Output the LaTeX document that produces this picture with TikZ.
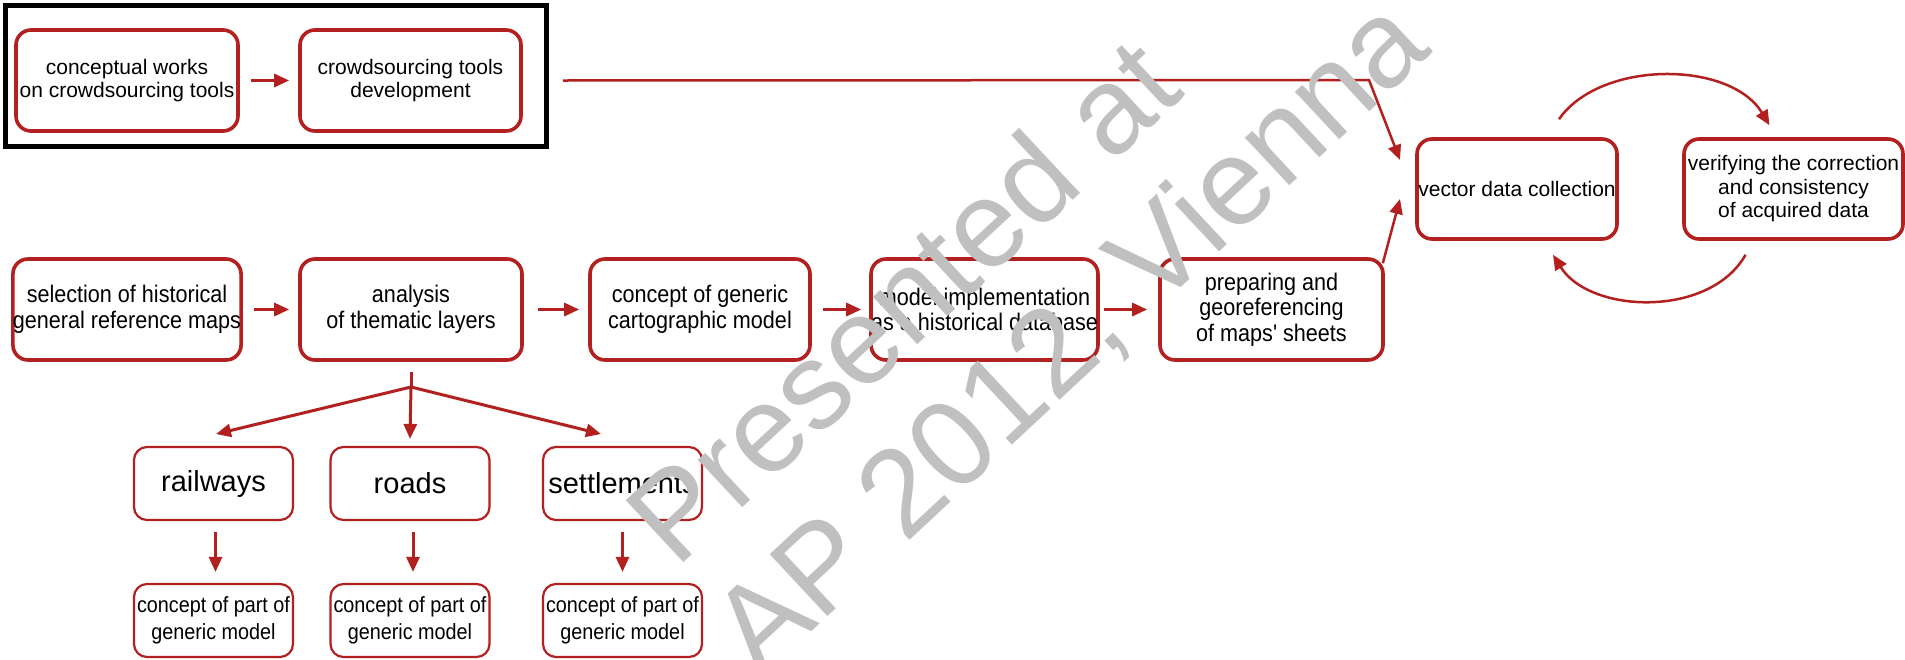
\documentclass[tikz,border=0pt]{standalone}
\usepackage{fontspec}
\setmainfont{Liberation Sans}
\newfontfamily\narrowfont{Liberation Sans}[FakeStretch=0.9]
\usetikzlibrary{arrows.meta,calc}
\definecolor{dred}{RGB}{178,32,32}
\definecolor{wmgray}{RGB}{192,192,192}
\begin{document}
\begin{tikzpicture}[x=1pt,y=-1pt,
  box/.style={draw=dred, line width=3.6pt, rounded corners=15pt, minimum height=101pt,
    align=center, inner sep=0pt, font=\fontsize{21}{23.5}\selectfont},
  boxn/.style={box, font=\narrowfont\fontsize{24}{25.5}\selectfont},
  sbox/.style={draw=dred, line width=2.2pt, rounded corners=13pt, minimum width=159pt,
    minimum height=73pt, align=center, inner sep=0pt},
  arr/.style={draw=dred, line width=3pt, -{Triangle[length=15pt,width=13pt]}},
  thin/.style={draw=dred, line width=2.5pt, -{Triangle[length=15pt,width=13pt]}},
  wm/.style={text=wmgray, anchor=base west, inner sep=0pt, rotate=43, font=\fontsize{123}{123}\selectfont}
]
\useasboundingbox (0,0) rectangle (1905,659);
\fill[white] (0,0) rectangle (1905,659);

% group frame
\node[draw=black, line width=5pt, minimum width=541pt, minimum height=141pt, inner sep=0pt] (grp) at (275.5,75.5) {};

% row 1
\node[box, minimum width=222pt] (cw) at (127,80.5) {conceptual works\\on crowdsourcing tools};
\node[box, minimum width=221pt] (ctd) at (410.5,80.5) {crowdsourcing tools\\development};

% right side
\node[box, minimum width=200pt, minimum height=100pt] (vdc) at (1517,189) {vector data collection};
\node[box, minimum width=219pt, minimum height=100pt] (ver) at (1793.5,189) {verifying the correction\\and consistency\\of acquired data};

% row 2
\node[boxn, minimum width=222pt] (sel) at (127,309.5) {selection of historical\\general reference maps};
\node[boxn, minimum width=222pt] (ana) at (411,309.5) {analysis\\of thematic layers};
\node[boxn, minimum width=220pt] (cgc) at (700,309.5) {concept of generic\\cartographic model};
\node[boxn, minimum width=225pt] (mi) at (984.5,309.5) {model implementation\\as a historical database};
\node[boxn, minimum width=223pt] (prep) at (1271.5,309.5) {preparing and\\georeferencing\\of maps' sheets};

% row 3
\node[sbox, font=\fontsize{29}{31}\selectfont] (rail) at (213.5,483.5) {railways};
\node[sbox, font=\fontsize{29}{31}\selectfont] (road) at (410,483.5) {roads};
\node[sbox, font=\fontsize{29}{31}\selectfont] (sett) at (622.5,483.5) {settlements};

% row 4
\node[sbox, font=\narrowfont\fontsize{22}{27}\selectfont] (crail) at (213.5,620.5) {concept of part of\\generic model};
\node[sbox, font=\narrowfont\fontsize{22}{27}\selectfont] (croad) at (410,620.5) {concept of part of\\generic model};
\node[sbox, font=\narrowfont\fontsize{22}{27}\selectfont] (csett) at (622.5,620.5) {concept of part of\\generic model};

% coordinates
\coordinate (lineend) at (1369,80);
\coordinate (tipA) at (1400,160);
\coordinate (tipB) at (1400,199);
\coordinate (junc) at (411,387);
\coordinate (trail) at (216,434);
\coordinate (tsett) at (601,434);

% row 1 arrow
\draw[arr] ($(cw.east)+(11,0)$) -- ($(ctd.west)+(-9,0)$);
% long connector
\draw[thin] ($(ctd.east)+(40,0)$) -- (lineend) -- (tipA);
\draw[thin] ($(prep.north east)+(-2,6)$) -- (tipB);

% row 2 arrows
\draw[arr] ($(sel.east)+(11,0)$) -- ($(ana.west)+(-9,0)$);
\draw[arr] ($(ana.east)+(14,0)$) -- ($(cgc.west)+(-9,0)$);
\draw[arr] ($(cgc.east)+(11,0)$) -- ($(mi.west)+(-8,0)$);
\draw[arr] ($(mi.east)+(4,0)$) -- ($(prep.west)+(-11,0)$);

% loop arrows
\draw[thin] ($(vdc.north)+(42,-18)$) .. controls (1600,60) and (1730,60) .. ($(ver.north)+(-24,-12)$);
\draw[thin] ($(ver.south)+(-48,14)$) .. controls (1710,318) and (1590,314) .. ($(vdc.south)+(36,14)$);

% branching
\draw[draw=dred, line width=3pt] ($(ana.south)+(0,10)$) -- (junc);
\draw[arr] (junc) -- (trail);
\draw[arr] (junc) -- ($(road.north)+(0,-7)$);
\draw[arr] (junc) -- (tsett);

% down arrows
\draw[arr] ($(rail.south)+(2,11)$) -- ($(crail.north)+(2,-11)$);
\draw[arr] ($(road.south)+(3,11)$) -- ($(croad.north)+(3,-11)$);
\draw[arr] ($(sett.south)+(0,11)$) -- ($(csett.north)+(0,-11)$);

% watermark
\node[wm] (wm1) at (676,570) {Presented at};
\node[wm] (wm2) at (760,680) {AP 2012, Vienna};
\end{tikzpicture}
\end{document}
